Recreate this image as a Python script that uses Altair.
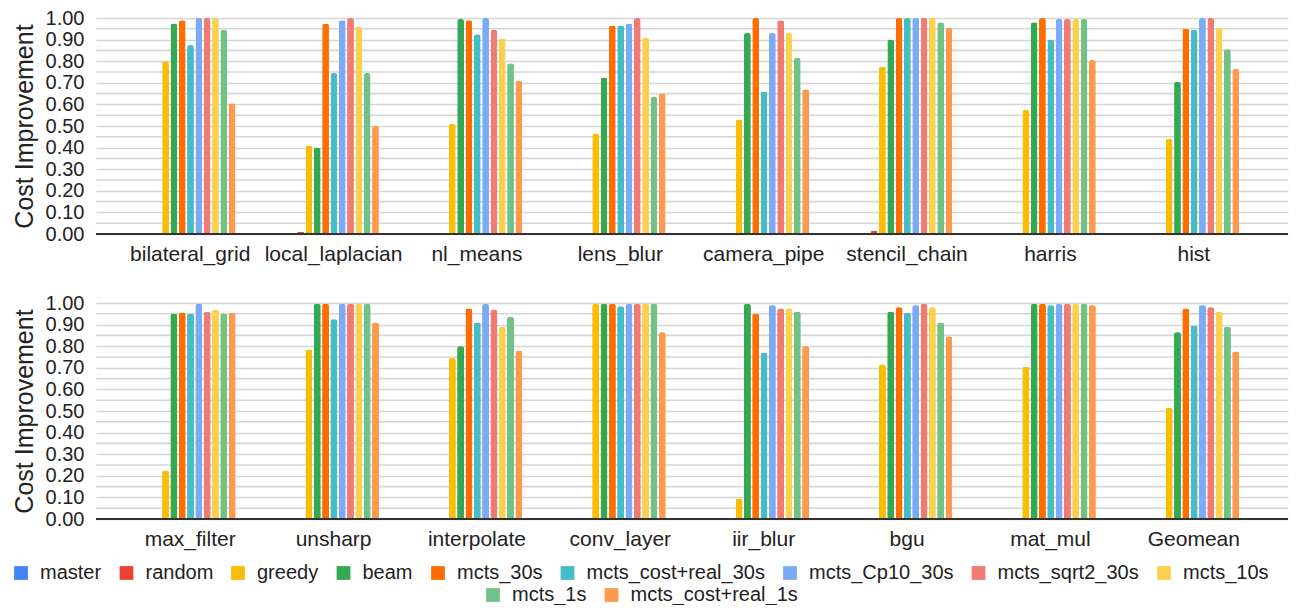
import altair as alt
import pandas as pd

series = ["master", "random", "greedy", "beam", "mcts_30s", "mcts_cost+real_30s",
          "mcts_Cp10_30s", "mcts_sqrt2_30s", "mcts_10s", "mcts_1s", "mcts_cost+real_1s"]
colors = ["#4285F4", "#EA4335", "#FBBC04", "#34A853", "#FF6D01", "#46BDC6",
          "#7BAAF7", "#F07B72", "#FCD04F", "#71C287", "#FF994D"]

top_apps = ["bilateral_grid", "local_laplacian", "nl_means", "lens_blur",
            "camera_pipe", "stencil_chain", "harris", "hist"]
bottom_apps = ["max_filter", "unsharp", "interpolate", "conv_layer",
               "iir_blur", "bgu", "mat_mul", "Geomean"]

# values per benchmark, in the order of `series`
bilateral_grid = [0, 0.004, 0.80, 0.975, 0.99, 0.875, 1.0, 1.0, 1.0, 0.945, 0.605]
local_laplacian = [0, 0.01, 0.41, 0.40, 0.975, 0.745, 0.99, 1.0, 0.96, 0.745, 0.50]
nl_means = [0, 0.003, 0.51, 0.995, 0.99, 0.925, 1.0, 0.945, 0.905, 0.79, 0.71]
lens_blur = [0, 0.003, 0.465, 0.725, 0.965, 0.965, 0.975, 1.0, 0.91, 0.635, 0.65]
camera_pipe = [0, 0.003, 0.53, 0.93, 1.0, 0.66, 0.93, 0.99, 0.93, 0.815, 0.67]
stencil_chain = [0, 0.015, 0.775, 0.90, 1.0, 1.0, 1.0, 1.0, 1.0, 0.98, 0.955]
harris = [0, 0, 0.575, 0.98, 1.0, 0.90, 0.995, 0.995, 0.995, 0.995, 0.805]
hist = [0, 0.003, 0.44, 0.705, 0.95, 0.945, 1.0, 1.0, 0.955, 0.855, 0.765]

max_filter = [0, 0.003, 0.225, 0.95, 0.955, 0.95, 0.995, 0.96, 0.97, 0.95, 0.955]
unsharp = [0, 0.003, 0.785, 0.995, 0.995, 0.925, 0.995, 0.995, 0.995, 0.995, 0.91]
interpolate = [0, 0.003, 0.745, 0.80, 0.975, 0.91, 0.995, 0.97, 0.89, 0.935, 0.78]
conv_layer = [0, 0.003, 0.995, 0.995, 0.995, 0.985, 0.995, 0.995, 0.995, 0.995, 0.865]
iir_blur = [0, 0, 0.095, 0.995, 0.95, 0.77, 0.99, 0.975, 0.975, 0.96, 0.80]
bgu = [0, 0.003, 0.715, 0.96, 0.98, 0.955, 0.99, 0.995, 0.98, 0.91, 0.845]
mat_mul = [0, 0.003, 0.705, 0.995, 0.995, 0.99, 0.995, 0.995, 0.995, 0.995, 0.99]
Geomean = [0, 0.003, 0.515, 0.865, 0.975, 0.895, 0.99, 0.98, 0.96, 0.89, 0.775]

top_vals = [bilateral_grid, local_laplacian, nl_means, lens_blur,
            camera_pipe, stencil_chain, harris, hist]
bottom_vals = [max_filter, unsharp, interpolate, conv_layer,
               iir_blur, bgu, mat_mul, Geomean]

# axis ticks (labelled) and the minor gridlines between them
tick_values = [0.0, 0.1, 0.2, 0.3, 0.4, 0.5, 0.6, 0.7, 0.8, 0.9, 1.0]
minor_grid = [0.05, 0.15, 0.25, 0.35, 0.45, 0.55, 0.65, 0.75, 0.85, 0.95]

FONT = "Arial, Liberation Sans, sans-serif"
TEXT = "#222222"
GRID = "#d6d6d6"
W, H = 1192, 216


def table(apps, vals):
    rows = []
    for app, v in zip(apps, vals):
        for s, val in zip(series, v):
            rows.append({"app": app, "series": s, "value": val})
    return pd.DataFrame(rows)


color_scale = alt.Scale(domain=series, range=colors)
y_scale = alt.Scale(domain=[0, 1], nice=False)


def y_axis():
    return alt.Axis(values=tick_values, ticks=False, tickSize=0, domain=False,
                    format=".2f", labelOverlap=False,
                    labelFont=FONT, labelFontSize=20, labelColor=TEXT,
                    labelPadding=12, gridColor=GRID, gridWidth=1.6,
                    titleFont=FONT, titleFontSize=25, titleColor=TEXT,
                    titleFontWeight="normal", titlePadding=8)


def bars(df, apps, legend):
    return alt.Chart(df).mark_bar(cornerRadiusEnd=2.5).encode(
        x=alt.X("app:N", sort=apps, title=None,
                scale=alt.Scale(paddingInner=0, paddingOuter=0.157),
                axis=alt.Axis(labelAngle=0, ticks=False, tickSize=0, domain=False,
                              labelFont=FONT, labelFontSize=21, labelColor=TEXT,
                              labelPadding=9, grid=False)),
        xOffset=alt.XOffset("series:N", sort=series,
                            scale=alt.Scale(paddingInner=0.18, range=[27, 117])),
        y=alt.Y("value:Q", title="Cost Improvement", scale=y_scale, axis=y_axis()),
        color=alt.Color("series:N", sort=series, scale=color_scale, legend=legend),
    )


def minor_lines():
    return alt.Chart(pd.DataFrame({"g": minor_grid})).mark_rule(
        color=GRID, strokeWidth=1.6
    ).encode(
        y=alt.Y("g:Q", scale=y_scale, axis=y_axis(), title="Cost Improvement"),
        x=alt.value(0), x2=alt.value(W),
    )


def baseline(df):
    return alt.Chart(df).mark_rule(color="#333333", strokeWidth=1.5).encode(
        y=alt.YDatum(0, type="quantitative", scale=y_scale, axis=y_axis(),
                     title="Cost Improvement")
    )


def legend(values, x, y, cols):
    return alt.Legend(values=values, title=None, orient="none", legendX=x, legendY=y,
                      direction="horizontal", columns=cols, symbolType="square",
                      symbolSize=190, symbolStrokeWidth=0, labelFont=FONT,
                      labelFontSize=20, labelColor=TEXT, labelOffset=9,
                      labelLimit=0, columnPadding=14.5)


df_top = table(top_apps, top_vals)
df_bot = table(bottom_apps, bottom_vals)

top = alt.layer(
    minor_lines(), bars(df_top, top_apps, None), baseline(df_top)
).properties(width=W, height=H)

bottom = alt.layer(
    minor_lines(),
    bars(df_bot, bottom_apps, legend(series[:9], -85, 260, 9)),
    bars(df_bot, bottom_apps, legend(series[9:], 387, 282, 2)),
    baseline(df_bot),
).resolve_legend(color="independent").properties(width=W, height=H)

chart = alt.vconcat(top, bottom, spacing=29).resolve_legend(
    color="independent"
).properties(padding={"left": 3, "top": 0, "right": 0, "bottom": 0}).configure_view(stroke=None)

chart.save("out.html", embed_options={"renderer": "svg", "actions": False})
